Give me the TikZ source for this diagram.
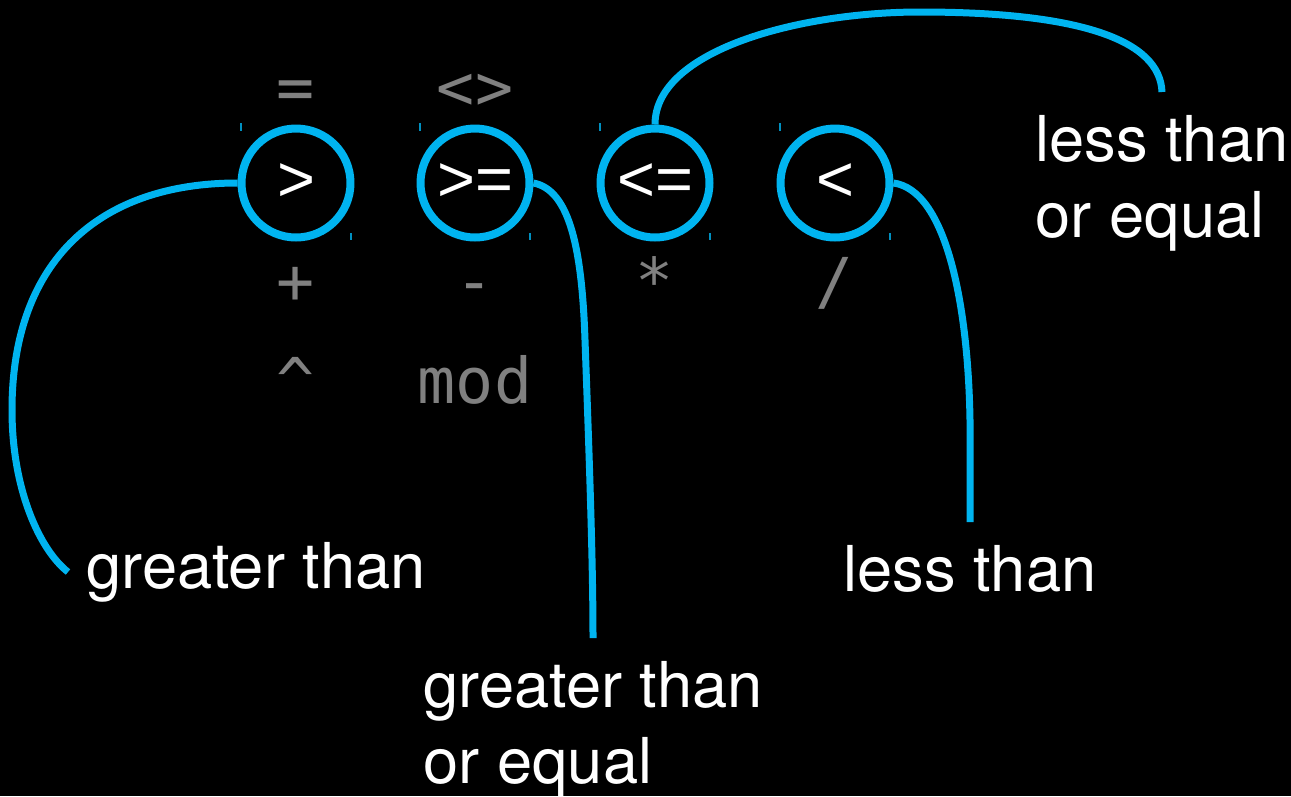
\documentclass[tikz,border=0pt]{standalone}
\usepackage{fontspec}
\newfontfamily\labelfont{TeX Gyre Heros}
\newfontfamily\ringfont{Liberation Sans}
\newfontfamily\opfont{DejaVu Sans Mono}
\usetikzlibrary{positioning}
\definecolor{linkblue}{RGB}{0,180,240}
\definecolor{opgrey}{RGB}{128,128,128}
\tikzset{
  opcell/.style={text=opgrey, font=\opfont\fontsize{36}{40}\selectfont, anchor=base, inner sep=0pt},
  opring/.style={draw=linkblue, line width=0.16cm, circle, minimum size=2.18cm, inner sep=0pt, text=white, font=\ringfont\fontsize{37}{40}\selectfont},
  opnote/.style={text=white, font=\labelfont\fontsize{36}{43}\selectfont, align=left, inner xsep=0.36cm, inner ysep=0.47cm},
  linkline/.style={draw=linkblue, line width=0.14cm},
  celltick/.style={draw=linkblue!80!black, line width=0.03cm}
}

\begin{document}
\begin{tikzpicture}[x=0.02cm, y=-0.02cm]
  \fill[black] (0,0) rectangle (1291,796);
  \useasboundingbox (0,0) rectangle (1291,796);
  \node[opcell] (eq) at (296,109) {=};
  \node[opcell] (ne) at (475,109) {<>};
  \node[opring] (gt) at (296,183) {>};
  \node[opring] (ge) at (475,183) {>=};
  \node[opring] (le) at (655,183) {<=};
  \node[opring] (lt) at (835,183) {<};
  \node[opcell] (plus) at (296,303) {+};
  \node[opcell] (minus) at (475,303) {-};
  \node[opcell] (times) at (655,303) {*};
  \node[opcell] (slash) at (835,303) {/};
  \node[opcell] (pow) at (296,403) {\textasciicircum};
  \node[opcell] (mod) at (475,403) {mod};
  \foreach \n in {gt,ge,le,lt} {
    \draw[celltick] ([shift={(-55,-60)}]\n.center) -- ++(0,8);
    \draw[celltick] ([shift={(55,50)}]\n.center) -- ++(0,7);
  }
  \node[opnote, anchor=west] (gtnote) at (68,572) {greater than};
  \node[opnote, anchor=north] (genote) at (593,638) {greater than\\or equal};
  \node[opnote, anchor=north] (ltnote) at (970,522) {less than};
  \node[opnote, anchor=north] (lenote) at (1162,92) {less than\\or equal};
  \draw[linkline] (gt.west) .. controls (100,183) and (12,260) .. (12,410)
    .. controls (12,490) and (40,550) .. (gtnote.west);
  \draw[linkline] (ge.east) .. controls (570,190) and (582,250) .. (585,340)
    .. controls (589,450) and (593,560) .. (genote.north);
  \draw[linkline] (le.north) .. controls (655,50) and (800,12) .. (920,12)
    .. controls (1080,12) and (1160,40) .. (lenote.north);
  \draw[linkline] (lt.east) .. controls (945,190) and (968,300) .. (970,420)
    -- (ltnote.north);
\end{tikzpicture}
\end{document}
